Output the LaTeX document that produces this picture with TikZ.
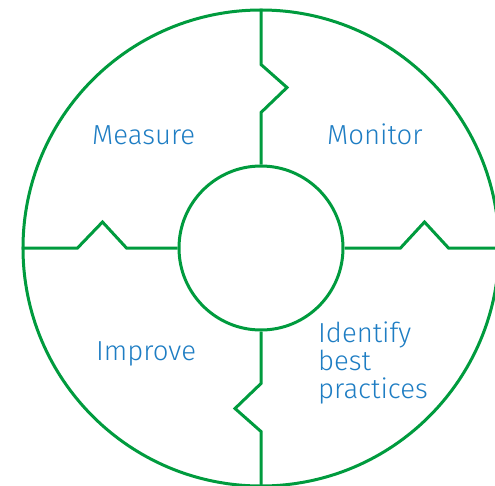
\documentclass[tikz,border=0pt]{standalone}
\usepackage{fontspec}
\setmainfont{Fira Sans}[UprightFont={* Light}]
\definecolor{ringgreen}{RGB}{0,155,62}
\definecolor{labelblue}{RGB}{30,125,195}
\begin{document}
\begin{tikzpicture}[x=1pt,y=-1pt,
  ring/.style={draw=ringgreen,line width=3pt,circle,inner sep=0pt},
  link/.style={draw=ringgreen,line width=3pt,line join=miter},
  lbl/.style={text=labelblue,font=\fontsize{27.5}{29}\selectfont,anchor=base west,inner sep=0pt}]
\useasboundingbox (0,0) rectangle (495,485);
\clip (0,0) rectangle (495,485);
\node[ring,minimum size=476pt] (outer) at (261,248) {};
\node[ring,minimum size=164pt] (inner) at (261,248) {};
\draw[link] (outer.north) -- ++(0,56) -- ++(26,23) -- ++(-26,25) -- (inner.north);
\draw[link] (outer.west) -- ++(56,0) -- ++(25,-26) -- ++(24,26) -- (inner.west);
\draw[link] (inner.east) -- ++(56,0) -- ++(24,-26) -- ++(24,26) -- (outer.east);
\draw[link] (inner.south) -- ++(0,52) -- ++(-26,25) -- ++(26,23) -- (outer.south);
\node[lbl] (measure) at (92,144) {Measure};
\node[lbl] (monitor) at (327,144) {Monitor};
\node[lbl] (improve) at (96,360) {Improve};
\node[lbl] (id1) at (318,342) {Identify};
\node[lbl] (id2) at (318,370) {best};
\node[lbl] (id3) at (318,398) {practices};
\end{tikzpicture}
\end{document}
